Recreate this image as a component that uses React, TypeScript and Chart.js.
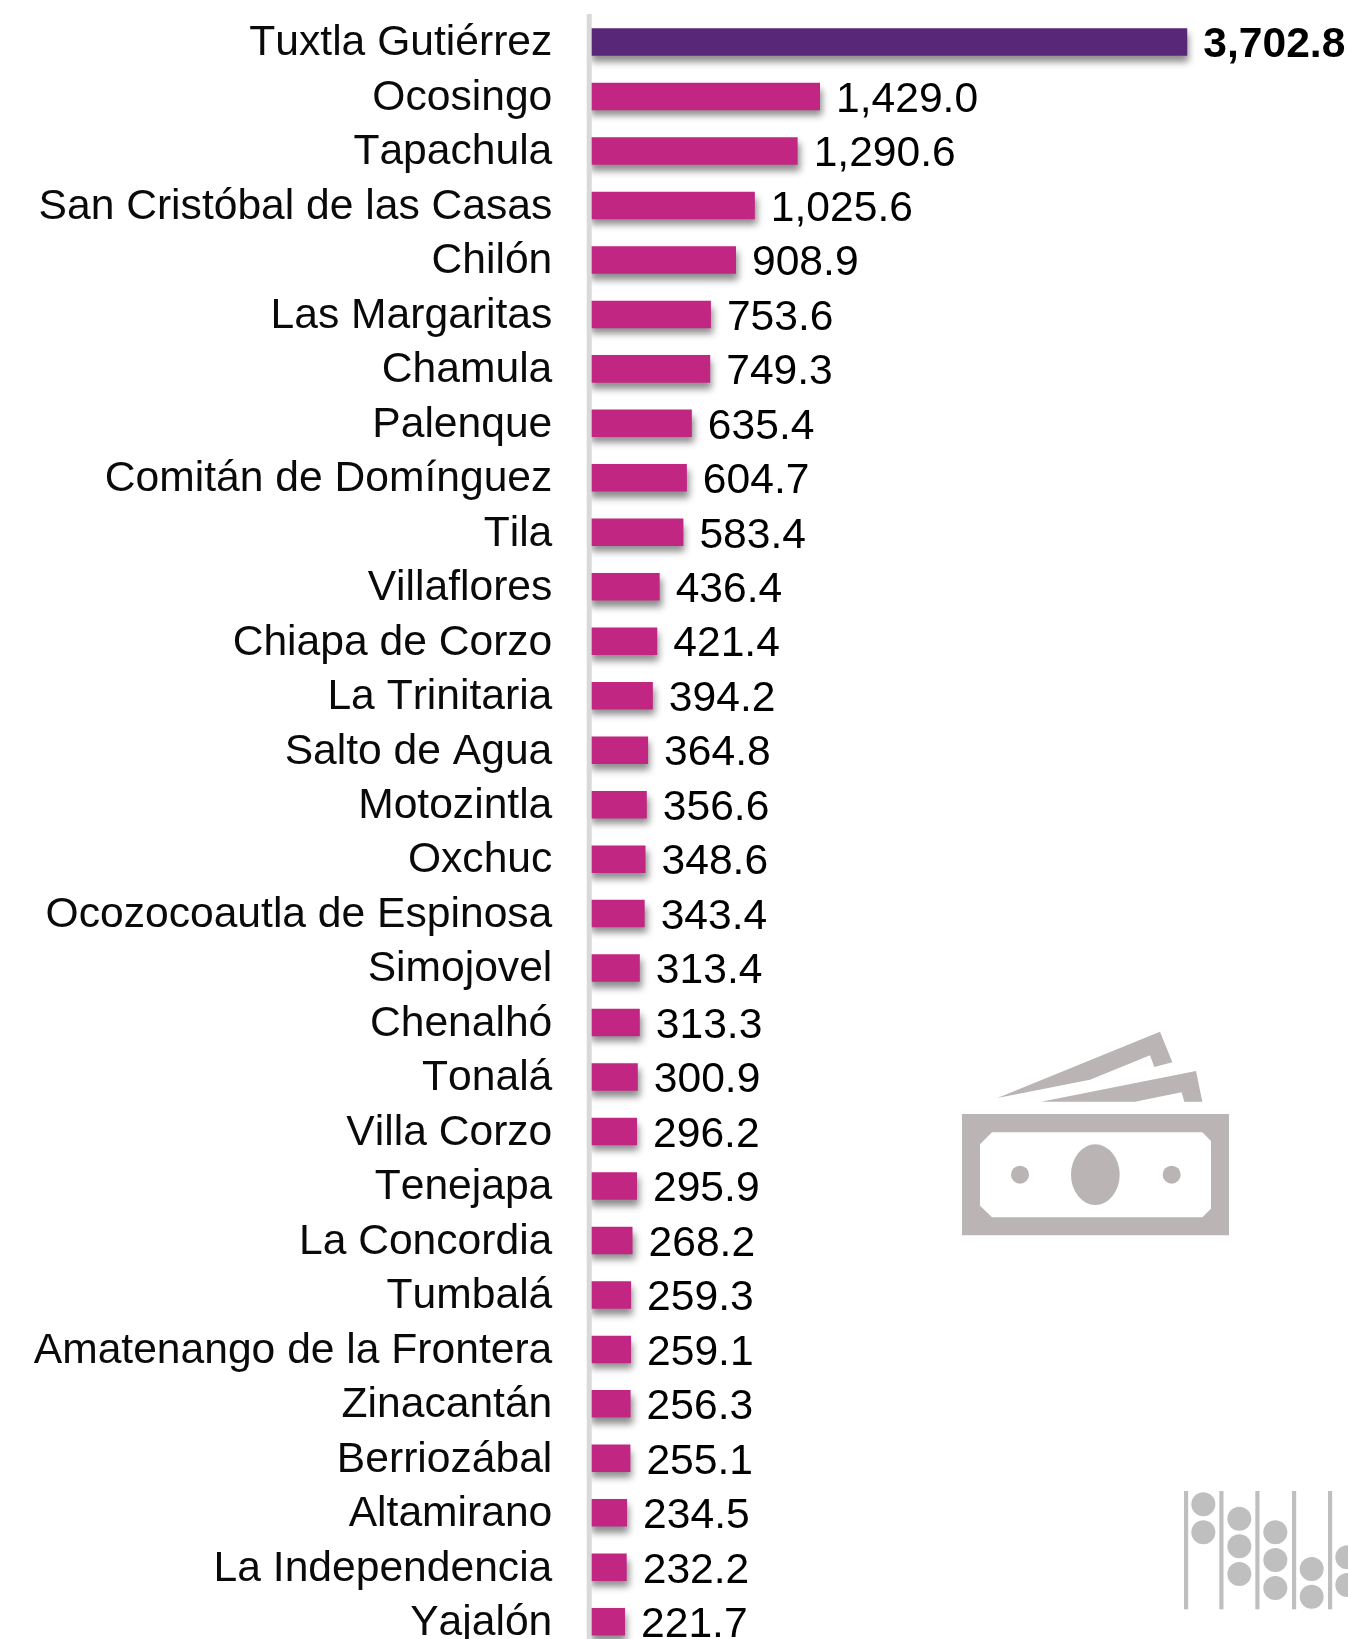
import React, { useEffect, useRef } from "react";
import { Chart, registerables } from "chart.js";

Chart.register(...registerables);

const categories = [
  "Tuxtla Gutiérrez", "Ocosingo", "Tapachula", "San Cristóbal de las Casas", "Chilón",
  "Las Margaritas", "Chamula", "Palenque", "Comitán de Domínguez", "Tila",
  "Villaflores", "Chiapa de Corzo", "La Trinitaria", "Salto de Agua", "Motozintla",
  "Oxchuc", "Ocozocoautla de Espinosa", "Simojovel", "Chenalhó", "Tonalá",
  "Villa Corzo", "Tenejapa", "La Concordia", "Tumbalá", "Amatenango de la Frontera",
  "Zinacantán", "Berriozábal", "Altamirano", "La Independencia", "Yajalón",
];

const values = [
  3702.8, 1429.0, 1290.6, 1025.6, 908.9,
  753.6, 749.3, 635.4, 604.7, 583.4,
  436.4, 421.4, 394.2, 364.8, 356.6,
  348.6, 343.4, 313.4, 313.3, 300.9,
  296.2, 295.9, 268.2, 259.3, 259.1,
  256.3, 255.1, 234.5, 232.2, 221.7,
];

const PURPLE = "#582778";
const MAGENTA = "#c22683";
const AXIS_GREY = "#d9d9d9";
const ICON_GREY = "#bab4b4";
const ABACUS_GREY = "#bfbfbf";
const FONT = "'Liberation Sans', Arial, sans-serif";
const FONT_SIZE = 42.6;

const fmt = (v: number) =>
  v.toLocaleString("en-US", { minimumFractionDigits: 1, maximumFractionDigits: 1 });

const noKerning = {
  id: "noKerning",
  beforeDraw(chart: any) {
    chart.ctx.fontKerning = "none";
  },
};

const barShadow = {
  id: "barShadow",
  beforeDatasetDraw(chart: any) {
    const c = chart.ctx;
    c.save();
    c.shadowColor = "rgba(0,0,0,0.45)";
    c.shadowBlur = 7;
    c.shadowOffsetX = 2;
    c.shadowOffsetY = 6;
  },
  afterDatasetDraw(chart: any) {
    chart.ctx.restore();
  },
};

const axisLine = {
  id: "axisLine",
  afterDatasetsDraw(chart: any) {
    const c = chart.ctx;
    const x = chart.scales.x.getPixelForValue(0);
    c.save();
    c.strokeStyle = AXIS_GREY;
    c.lineWidth = 5;
    c.beginPath();
    c.moveTo(x, chart.chartArea.top - 0.8);
    c.lineTo(x, chart.chartArea.bottom);
    c.stroke();
    c.restore();
  },
};

const valueLabels = {
  id: "valueLabels",
  afterDraw(chart: any) {
    const c = chart.ctx;
    const meta = chart.getDatasetMeta(0);
    c.save();
    c.textBaseline = "middle";
    c.textAlign = "left";
    c.fillStyle = "#000000";
    meta.data.forEach((bar: any, i: number) => {
      c.font = `${i === 0 ? "bold " : ""}${FONT_SIZE}px ${FONT}`;
      c.fillText(fmt(values[i]), bar.x + 16, bar.y + 3.5);
    });
    c.restore();
  },
};

function MoneyIcon() {
  return (
    <svg
      width={320}
      height={240}
      viewBox="0 0 960 720"
      style={{ position: "absolute", left: 940, top: 1010 }}
    >
      <g fill={ICON_GREY}>
        <polygon points="172,264 660,65 697,157 643,171 630,136 450,209" />
        <polygon points="303,275 768,183 787,275 733,275 725,247 585,275" />
        <path
          fillRule="evenodd"
          d="M66 312H867V676H66Z M156 367L120 403V587L156 622H787L813 596V393L787 367Z"
        />
        <ellipse cx={466} cy={494} rx={73} ry={91} />
        <circle cx={240} cy={494} r={27} />
        <circle cx={695} cy={494} r={27} />
      </g>
    </svg>
  );
}

const abacusRods = [78, 184, 292, 402, 510];
const abacusBeads = [
  [130, 103], [130, 187],
  [238, 146], [238, 229], [238, 312],
  [346, 187], [346, 270], [346, 354],
  [455, 297], [455, 380],
  [562, 262], [562, 345],
];

function AbacusIcon() {
  return (
    <svg
      width={188}
      height={169}
      viewBox="0 0 564 507"
      style={{ position: "absolute", left: 1160, top: 1470 }}
    >
      <g fill={ABACUS_GREY}>
        {abacusRods.map((x) => (
          <rect key={x} x={x - 6} y={63} width={12.5} height={355} />
        ))}
        {abacusBeads.map(([x, y]) => (
          <circle key={`${x}-${y}`} cx={x} cy={y} r={36} />
        ))}
      </g>
    </svg>
  );
}

export default function App() {
  const ref = useRef<HTMLCanvasElement>(null);

  useEffect(() => {
    const chart = new Chart(ref.current as HTMLCanvasElement, {
      type: "bar",
      data: {
        labels: categories,
        datasets: [
          {
            data: values,
            backgroundColor: values.map((_, i) => (i === 0 ? PURPLE : MAGENTA)),
            barPercentage: 0.505,
            categoryPercentage: 1,
          },
        ],
      },
      options: {
        indexAxis: "y",
        responsive: false,
        animation: false,
        layout: { padding: { top: 14.8, right: 32, bottom: 0, left: 0 } },
        plugins: { legend: { display: false }, tooltip: { enabled: false } },
        scales: {
          x: { display: false, min: 0, max: 4500 },
          y: {
            afterFit(scale: any) {
              scale.width = 589.2;
              scale.paddingTop = 0;
              scale.paddingBottom = 0;
            },
            grid: { display: false, drawTicks: false },
            border: { display: false },
            ticks: {
              autoSkip: false,
              padding: 36.9,
              labelOffset: 1.6,
              color: "#0a0a0a",
              font: { family: FONT, size: FONT_SIZE },
            },
          },
        },
      },
      plugins: [noKerning, barShadow, axisLine, valueLabels],
    } as any);
    return () => chart.destroy();
  }, []);

  return (
    <div
      style={{
        position: "absolute",
        left: 0,
        top: 0,
        width: 1348,
        height: 1639,
        overflow: "hidden",
        background: "#ffffff",
      }}
    >
      <canvas ref={ref} width={1348} height={1649} style={{ display: "block" }} />
      <MoneyIcon />
      <AbacusIcon />
    </div>
  );
}
